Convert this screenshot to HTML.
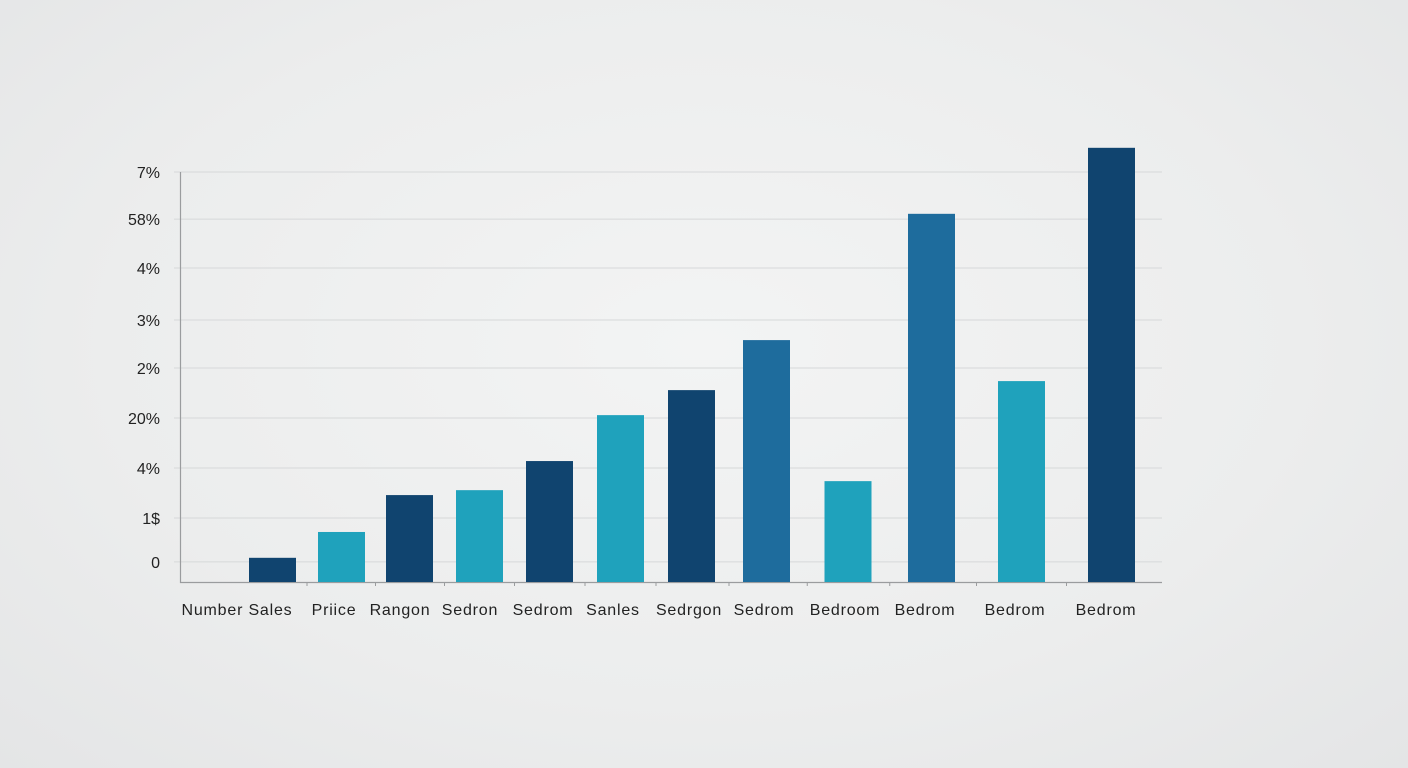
<!DOCTYPE html>
<html><head><meta charset="utf-8"><style>
html,body{margin:0;padding:0;width:1408px;height:768px;overflow:hidden;
background:radial-gradient(ellipse at 50% 45%,#f3f4f4 0%,#eceded 60%,#e4e5e6 100%);
font-family:"Liberation Sans",sans-serif;}
</style></head><body>
<svg id="chart" width="1408" height="768" xmlns="http://www.w3.org/2000/svg"></svg>
<script>
const categories=["Number Sales","Priice","Rangon","Sedron","Sedrom","Sanles","Sedrgon","Sedrom","Bedroom","Bedrom","Bedrom","Bedrom"];
const values=[5.9,12.2,21.2,22.4,29.5,40.7,46.8,59,24.6,89.8,49,105.9];
const colorKeys=["d","t","d","t","d","t","d","m","t","m","t","d"];
const tickValues=[100,88.5,76.6,63.9,52.2,40,27.8,15.6,4.9];
const tickLabels=["7%","58%","4%","3%","2%","20%","4%","1$","0"];
const barCenters=[272.5,341.5,409.5,479.5,549.5,620.5,691.5,766.5,848,931.5,1021.5,1111.5];
const labelCenters=[237,334,400,470,543,613,689,764,845,925,1015,1106];
const palette={d:"#10446f",t:"#1fa2bc",m:"#1e6c9d"};
const svg=document.getElementById('chart');
const NS="http://www.w3.org/2000/svg";
const y0=582, pxPer=4.1, barW=47;
function y(v){return y0-v*pxPer;}
function mk(t,a){const e=document.createElementNS(NS,t);for(const k in a)e.setAttribute(k,a[k]);svg.appendChild(e);return e;}
tickValues.forEach((v,i)=>{
  const g=mk('line',{x1:174,x2:1162,y1:y(v),y2:y(v),stroke:"#d6d8d9","stroke-width":1});
  
  
  const t=mk('text',{x:160,y:y(v)+6,"text-anchor":"end","font-size":16,fill:"#222"});
  t.textContent=tickLabels[i];
  
  
});
const ax=mk('path',{d:"M180.5 172 V582.5 H1162",stroke:"#9a9c9e",fill:"none","stroke-width":1.2});


values.forEach((v,i)=>{
  const r=mk('rect',{x:barCenters[i]-barW/2,y:y(v),width:barW,height:v*pxPer,fill:palette[colorKeys[i]]});
  
  
  if(i>0){const tk=mk('line',{x1:(barCenters[i]+barCenters[i-1])/2,x2:(barCenters[i]+barCenters[i-1])/2,y1:582,y2:586,stroke:"#9a9c9e"});
  
  }
  const t=mk('text',{x:labelCenters[i],y:615,"text-anchor":"middle","font-size":16,fill:"#222","letter-spacing":"0.8"});
  t.textContent=categories[i];
  
  
});
</script>
</body></html>
